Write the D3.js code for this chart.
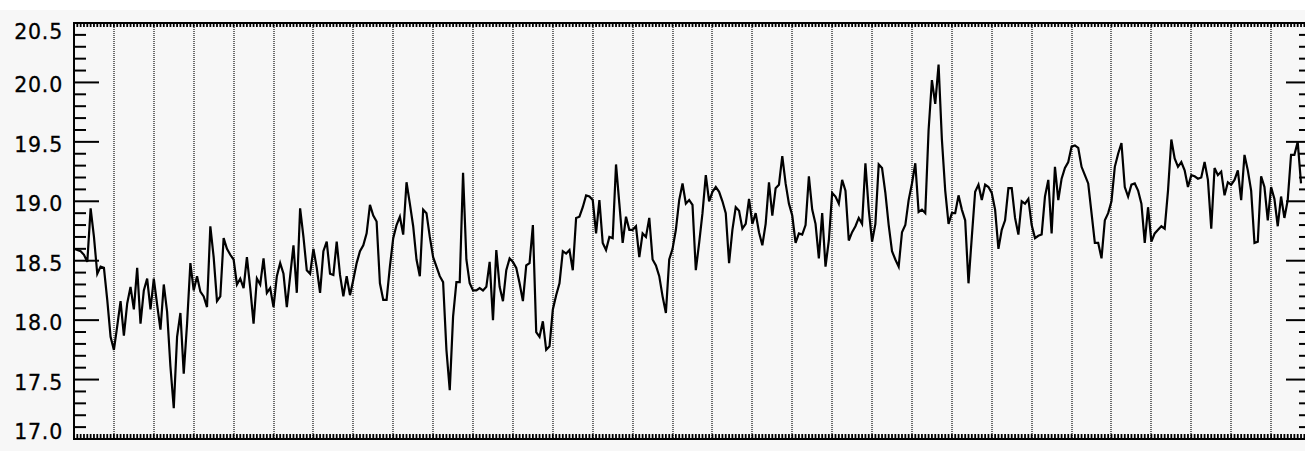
<!DOCTYPE html>
<html>
<head>
<meta charset="utf-8">
<script src="https://cdn.jsdelivr.net/npm/d3@7"></script>
<style>
	body { margin: 0; background: #fff; }
	svg { display: block; }
</style>
</head>
<body>
<div id="chart"></div>
<script>
// monthly values, one per month from the first year on
var values = [
	18.60, 18.59, 18.58, 18.55, 18.49, 18.94, 18.70, 18.39, 18.45, 18.44,
	18.17, 17.86, 17.75, 17.95, 18.16, 17.87, 18.14, 18.28, 18.09, 18.44,
	17.97, 18.25, 18.35, 18.09, 18.35, 18.13, 17.92, 18.30, 18.07, 17.61,
	17.26, 17.86, 18.06, 17.55, 17.97, 18.48, 18.25, 18.37, 18.24, 18.20,
	18.11, 18.79, 18.53, 18.16, 18.20, 18.69, 18.60, 18.55, 18.51, 18.30,
	18.35, 18.27, 18.53, 18.27, 17.97, 18.35, 18.30, 18.52, 18.23, 18.27,
	18.11, 18.37, 18.48, 18.39, 18.11, 18.37, 18.63, 18.23, 18.94, 18.70,
	18.42, 18.39, 18.60, 18.44, 18.23, 18.58, 18.66, 18.39, 18.38, 18.66,
	18.38, 18.20, 18.37, 18.21, 18.34, 18.48, 18.58, 18.63, 18.73, 18.97,
	18.88, 18.83, 18.31, 18.17, 18.17, 18.45, 18.69, 18.80, 18.87, 18.72,
	19.16, 18.98, 18.79, 18.51, 18.37, 18.93, 18.90, 18.70, 18.53, 18.45,
	18.37, 18.32, 17.75, 17.41, 18.03, 18.32, 18.32, 19.24, 18.51, 18.31,
	18.25, 18.25, 18.27, 18.25, 18.28, 18.49, 18.00, 18.59, 18.28, 18.16,
	18.42, 18.52, 18.49, 18.44, 18.31, 18.16, 18.46, 18.48, 18.80, 17.90,
	17.86, 17.99, 17.75, 17.78, 18.09, 18.21, 18.31, 18.58, 18.56, 18.59,
	18.42, 18.86, 18.87, 18.95, 19.05, 19.04, 19.01, 18.73, 19.01, 18.65,
	18.59, 18.70, 18.69, 19.31, 18.98, 18.65, 18.87, 18.76, 18.76, 18.79,
	18.53, 18.73, 18.70, 18.86, 18.51, 18.46, 18.37, 18.20, 18.06, 18.51,
	18.60, 18.76, 19.01, 19.15, 18.98, 19.01, 18.97, 18.42, 18.65, 18.90,
	19.22, 19.00, 19.08, 19.12, 19.08, 19.00, 18.90, 18.48, 18.76, 18.95,
	18.92, 18.77, 18.81, 19.02, 18.81, 18.90, 18.74, 18.63, 18.81, 19.16,
	18.88, 19.11, 19.14, 19.38, 19.15, 18.98, 18.88, 18.65, 18.73, 18.72,
	18.80, 19.21, 18.93, 18.81, 18.52, 18.90, 18.45, 18.67, 19.07, 19.04,
	18.98, 19.18, 19.09, 18.67, 18.74, 18.79, 18.86, 18.81, 19.32, 18.93,
	18.66, 18.81, 19.31, 19.28, 19.07, 18.80, 18.58, 18.51, 18.45, 18.74,
	18.80, 19.01, 19.15, 19.32, 18.91, 18.93, 18.90, 19.60, 20.02, 19.82,
	20.15, 19.52, 19.09, 18.81, 18.90, 18.90, 19.05, 18.93, 18.84, 18.31,
	18.70, 19.08, 19.14, 19.01, 19.14, 19.12, 19.07, 18.93, 18.60, 18.76,
	18.84, 19.11, 19.11, 18.86, 18.72, 19.00, 18.98, 19.02, 18.80, 18.69,
	18.71, 18.72, 19.04, 19.18, 18.73, 19.29, 19.01, 19.19, 19.28, 19.33,
	19.46, 19.47, 19.45, 19.29, 19.22, 19.15, 18.90, 18.65, 18.65, 18.52,
	18.84, 18.90, 19.00, 19.29, 19.40, 19.49, 19.12, 19.04, 19.14, 19.15,
	19.09, 18.98, 18.65, 18.95, 18.66, 18.73, 18.76, 18.79, 18.77, 19.09,
	19.52, 19.36, 19.29, 19.33, 19.26, 19.12, 19.22, 19.21, 19.19, 19.20,
	19.33, 19.18, 18.77, 19.28, 19.22, 19.25, 19.05, 19.16, 19.14, 19.18,
	19.26, 19.01, 19.39, 19.26, 19.09, 18.65, 18.66, 19.21, 19.12, 18.84,
	19.12, 19.02, 18.79, 19.04, 18.86, 19.01, 19.39, 19.39, 19.50, 19.15
];

var monthsOnAxis = 372; // 31 years, axis runs a bit past the picture edge
var monthsPerYear = 12;
var yMajor = [17.0, 17.5, 18.0, 18.5, 19.0, 19.5, 20.0, 20.5];
var yLabels = ['17.0', '17.5', '18.0', '18.5', '19.0', '19.5', '20.0', '20.5'];

(function() {

	var width = 1305, height = 451;
	var pLeft = 74, pRight = 1311, pTop = 23, pBottom = 439;

	var svg = d3.select('#chart').append('svg')
		.attr('width', width)
		.attr('height', height);

	svg.append('rect')
		.attr('x', 0).attr('y', 10)
		.attr('width', width).attr('height', height - 10)
		.attr('fill', '#f7f7f7');

	var x = d3.scaleLinear().domain([0, monthsOnAxis]).range([pLeft, pRight]);
	var y = d3.scaleLinear().domain([17.0, 20.5]).range([pBottom, pTop]);

	// yearly dotted grid
	var years = d3.range(monthsPerYear, monthsOnAxis, monthsPerYear);
	svg.append('g').attr('class', 'grid')
		.selectAll('line').data(years).enter().append('line')
			.attr('x1', function(d) { return Math.round(x(d)); })
			.attr('x2', function(d) { return Math.round(x(d)); })
			.attr('y1', pTop)
			.attr('y2', pBottom)
			.attr('stroke', '#6a6a6a')
			.attr('stroke-width', 2)
			.attr('stroke-dasharray', '1,1')
			.attr('shape-rendering', 'crispEdges');

	// monthly ticks along the top and the bottom
	var months = d3.range(0, monthsOnAxis + 1);
	var xt = svg.append('g').attr('class', 'xticks')
		.attr('stroke', '#000')
		.attr('stroke-width', 1.8);
	xt.selectAll('line.top').data(months).enter().append('line')
		.attr('class', 'top')
		.attr('x1', function(d) { return x(d); })
		.attr('x2', function(d) { return x(d); })
		.attr('y1', pTop)
		.attr('y2', pTop + 4);
	xt.selectAll('line.bot').data(months).enter().append('line')
		.attr('class', 'bot')
		.attr('x1', function(d) { return x(d); })
		.attr('x2', function(d) { return x(d); })
		.attr('y1', pBottom)
		.attr('y2', pBottom - 5);

	// y ticks on both sides, minor every 0.1
	var yMinor = d3.range(170, 206).map(function(d) { return d / 10; });
	var yt = svg.append('g').attr('class', 'yticks')
		.attr('stroke', '#000')
		.attr('stroke-width', 2);
	yt.selectAll('line.l').data(yMinor).enter().append('line')
		.attr('class', 'l')
		.attr('x1', pLeft)
		.attr('x2', function(d, i) { return pLeft + (i % 5 == 0 ? 25 : 12); })
		.attr('y1', function(d) { return y(d); })
		.attr('y2', function(d) { return y(d); });
	yt.selectAll('line.r').data(yMinor).enter().append('line')
		.attr('class', 'r')
		.attr('x1', pRight)
		.attr('x2', function(d, i) { return pRight - (i % 5 == 0 ? 25 : 12); })
		.attr('y1', function(d) { return y(d); })
		.attr('y2', function(d) { return y(d); });

	// frame
	svg.append('rect')
		.attr('x', pLeft).attr('y', pTop)
		.attr('width', pRight - pLeft).attr('height', pBottom - pTop)
		.attr('fill', 'none')
		.attr('stroke', '#000')
		.attr('stroke-width', 2);

	svg.append('g').attr('class', 'ylabels')
		.selectAll('text').data(yMajor).enter().append('text')
			.attr('x', 63)
			.attr('y', function(d) { return Math.max(32, Math.min(432, y(d) + 3)); })
			.attr('text-anchor', 'end')
			.attr('dominant-baseline', 'central')
			.attr('font-family', 'DejaVu Sans, sans-serif')
			.attr('font-size', 20.5)
			.attr('letter-spacing', 0.8)
			.attr('fill', '#000')
			.attr('stroke', '#000')
			.attr('stroke-width', 0.3)
			.text(function(d, i) { return yLabels[i]; });

	var line = d3.line()
		.x(function(d, i) { return x(i); })
		.y(function(d) { return y(d); });

	svg.append('path')
		.datum(values)
		.attr('d', line)
		.attr('fill', 'none')
		.attr('stroke', '#000')
		.attr('stroke-width', 2.2)
		.attr('stroke-linejoin', 'miter');

})();
</script>
</body>
</html>
